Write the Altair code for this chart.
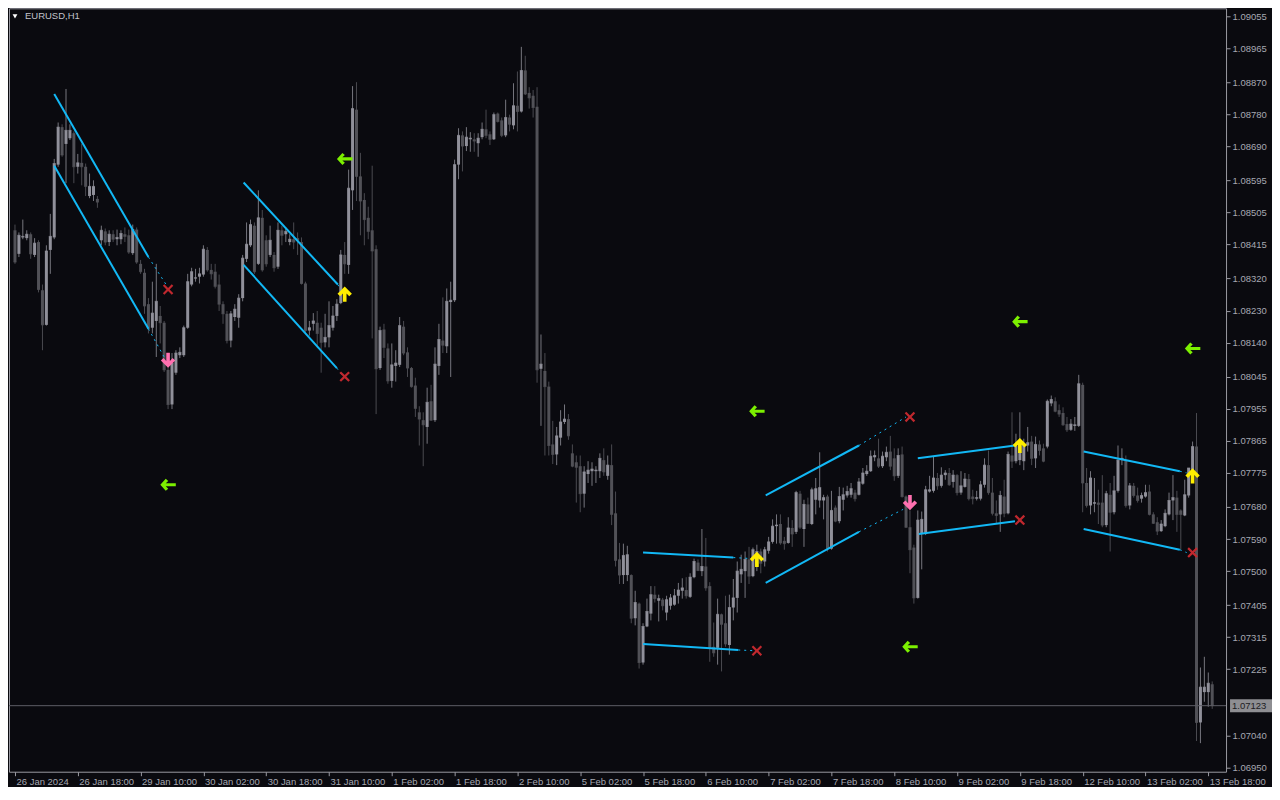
import altair as alt
import pandas as pd

# ---------------- EURUSD H1 candles (prices in points, 1e-5) ----------------
open_pts = [
108455,108389,108435,108433,108444,108386,108422,108287,108190,108400,
108435,108639,108744,108697,108713,108727,108633,108644,108633,108551,
108554,108543,108427,108452,108422,108444,108430,108430,108444,108441,
108391,108457,108361,108336,108248,108182,108201,108215,108196,108064,
107967,108056,108105,108105,108182,108303,108320,108325,108331,108400,
108344,108339,108303,108248,108221,108146,108212,108210,108265,108375,
108413,108468,108361,108490,108427,108386,108386,108353,108455,108444,
108422,108430,108433,108422,108306,108174,108193,108196,108182,108141,
108155,108182,108215,108251,108386,108358,108567,108793,108606,108540,
108490,108455,108402,108069,108177,108124,108033,108075,108078,108185,
108113,108069,108020,107945,107923,107904,107976,107923,108075,108146,
108130,108254,108259,108639,108721,108691,108710,108710,108699,108716,
108738,108724,108710,108782,108763,108721,108771,108749,108804,108788,
108903,108840,108832,108801,108067,108061,108017,107855,107827,107874,
107918,107926,107830,107805,107794,107717,107772,107780,107780,107780,
107811,107767,107797,107662,107533,107489,107489,107489,107368,107409,
107244,107345,107381,107434,107417,107420,107384,107403,107406,107431,
107445,107447,107428,107483,107524,107500,107513,107458,107288,107285,
107379,107354,107293,107398,107425,107491,107500,107533,107486,107513,
107555,107527,107557,107582,107626,107632,107585,107579,107621,107610,
107717,107618,107687,107632,107700,107698,107698,107709,107563,107678,
107640,107700,107712,107714,107720,107714,107745,107772,107780,107819,
107816,107794,107819,107835,107816,107767,107827,107709,107623,107566,
107425,107604,107604,107723,107725,107761,107739,107769,107775,107750,
107769,107720,107736,107758,107709,107703,107703,107742,107797,107720,
107662,107659,107709,107662,107824,107808,107811,107808,107852,107863,
107816,107855,107844,107849,107970,107976,107951,107943,107912,107896,
107907,107907,108022,107747,107684,107689,107692,107692,107629,107714,
107665,107725,107811,107811,107684,107739,107712,107703,107709,107723,
107659,107637,107612,107626,107659,107698,107706,107670,107656,107712,
107783,107849,107076,107161,107161,107183]

high_pts = [
108471,108449,108485,108455,108449,108433,108427,108303,108413,108501,
108655,108757,108752,108851,108752,108732,108669,108697,108642,108614,
108595,108551,108468,108460,108455,108455,108457,108455,108463,108457,
108471,108463,108372,108347,108265,108311,108361,108243,108201,108083,
108111,108119,108127,108188,108333,108350,108347,108350,108413,108408,
108361,108361,108331,108256,108229,108229,108248,108276,108386,108477,
108485,108477,108567,108512,108441,108468,108394,108477,108468,108463,
108444,108477,108449,108435,108311,108201,108223,108229,108196,108221,
108256,108243,108262,108400,108422,108625,108859,108870,108672,108559,
108521,108636,108413,108185,108193,108138,108138,108119,108212,108201,
108127,108072,108042,107962,107945,108014,108022,108127,108193,108267,
108292,108311,108653,108741,108732,108744,108730,108727,108727,108757,
108793,108732,108785,108785,108771,108821,108779,108867,108900,108969,
108944,108856,108848,108856,108163,108111,108031,107921,107904,107951,
107967,107940,107855,107824,107824,107794,107808,107805,107794,107830,
107844,107824,107855,107723,107579,107577,107571,107491,107445,107412,
107354,107423,107458,107458,107434,107425,107431,107436,107450,107467,
107480,107483,107494,107535,107533,107618,107593,107469,107356,107423,
107381,107431,107434,107478,107527,107546,107555,107568,107566,107574,
107563,107568,107596,107645,107659,107659,107596,107651,107643,107725,
107725,107700,107706,107734,107761,107833,107714,107714,107725,107684,
107736,107734,107739,107747,107728,107761,107789,107797,107838,107838,
107871,107835,107849,107879,107844,107844,107849,107712,107670,107574,
107670,107667,107739,107767,107822,107775,107791,107783,107789,107783,
107772,107780,107775,107772,107728,107725,107753,107816,107838,107761,
107698,107725,107756,107835,107945,107885,107945,107871,107904,107879,
107877,107866,107857,107981,107992,107987,107967,107959,107932,107926,
107932,108050,108028,107789,107780,107761,107728,107769,107725,107747,
107767,107852,107844,107824,107747,107747,107734,107720,107742,107742,
107665,107651,107643,107673,107720,107769,107725,107673,107756,107789,
107863,107943,107230,107260,107216,107191]

low_pts = [
108361,108380,108430,108427,108375,108380,108281,108119,108188,108333,
108430,108633,108661,108587,108708,108587,108614,108581,108551,108545,
108537,108518,108413,108413,108411,108422,108413,108416,108422,108389,
108386,108361,108333,108221,108166,108166,108100,108138,108058,107954,
107954,108050,108097,108100,108179,108298,108311,108306,108325,108339,
108317,108292,108229,108193,108138,108127,108201,108182,108256,108366,
108408,108333,108358,108339,108353,108380,108339,108347,108413,108422,
108413,108402,108386,108303,108168,108160,108174,108127,108056,108127,
108127,108174,108201,108248,108333,108333,108512,108537,108441,108413,
108430,108152,107940,108064,108097,108025,108014,108031,108072,108105,
108044,108014,107932,107852,107794,107857,107921,107918,108050,108111,
108111,108044,108254,108598,108620,108677,108675,108675,108661,108710,
108713,108694,108708,108757,108716,108716,108732,108738,108732,108785,
108834,108796,108771,108028,107907,107824,107824,107800,107797,107852,
107912,107868,107791,107692,107665,107678,107747,107739,107747,107761,
107767,107756,107629,107513,107464,107464,107472,107354,107348,107227,
107238,107343,107362,107412,107359,107390,107362,107392,107403,107409,
107423,107423,107425,107480,107500,107486,107445,107246,107260,107238,
107219,107288,107266,107362,107384,107467,107425,107464,107483,107500,
107494,107513,107549,107577,107577,107574,107560,107577,107568,107604,
107618,107568,107632,107629,107659,107678,107645,107555,107560,107637,
107634,107670,107706,107706,107695,107712,107742,107767,107778,107808,
107789,107789,107808,107783,107753,107761,107706,107621,107494,107409,
107423,107505,107601,107720,107720,107728,107734,107756,107739,107734,
107712,107714,107734,107698,107687,107698,107698,107734,107714,107656,
107632,107610,107651,107659,107789,107802,107797,107783,107835,107797,
107789,107824,107805,107844,107962,107945,107932,107907,107890,107893,
107893,107904,107665,107678,107659,107665,107632,107623,107623,107555,
107659,107720,107797,107678,107673,107706,107692,107692,107706,107656,
107632,107601,107610,107623,107656,107643,107610,107560,107654,107706,
107780,107024,107018,107134,107120,107114]

close_pts = [
108366,108441,108438,108444,108389,108419,108289,108190,108397,108438,
108642,108744,108666,108735,108735,108633,108644,108633,108578,108578,
108578,108534,108455,108422,108444,108430,108435,108446,108438,108394,
108457,108366,108339,108243,108179,108223,108256,108196,108064,107967,
108083,108111,108113,108182,108311,108339,108322,108333,108402,108344,
108333,108298,108248,108221,108146,108221,108234,108265,108377,108416,
108471,108339,108490,108344,108361,108427,108350,108455,108441,108452,
108430,108422,108427,108306,108174,108182,108201,108166,108141,108155,
108188,108215,108248,108386,108361,108573,108796,108606,108537,108485,
108452,108397,108067,108174,108127,108033,108078,108083,108188,108111,
108069,108017,107956,107926,107910,107973,107923,108080,108149,108133,
108256,108259,108639,108721,108691,108716,108713,108705,108713,108738,
108721,108710,108779,108760,108721,108771,108752,108804,108788,108903,
108837,108826,108799,108064,108080,108017,107852,107827,107879,107918,
107926,107879,107794,107791,107717,107778,107783,107786,107783,107816,
107778,107797,107659,107530,107489,107544,107546,107368,107412,107244,
107345,107387,107434,107423,107423,107403,107420,107425,107431,107447,
107453,107431,107483,107527,107502,107513,107453,107285,107271,107379,
107351,107296,107398,107425,107500,107505,107533,107486,107560,107555,
107522,107560,107582,107626,107629,107579,107577,107621,107604,107720,
107623,107687,107634,107728,107731,107734,107706,107563,107670,107640,
107709,107714,107723,107731,107703,107750,107775,107780,107822,107824,
107794,107822,107833,107794,107767,107824,107709,107623,107560,107425,
107643,107645,107728,107728,107761,107739,107769,107775,107742,107769,
107720,107739,107758,107703,107703,107706,107742,107797,107720,107662,
107656,107712,107662,107827,107808,107849,107852,107852,107860,107816,
107855,107838,107808,107976,107981,107948,107940,107910,107896,107912,
107910,108025,107747,107684,107761,107692,107687,107629,107717,107665,
107725,107811,107816,107684,107739,107712,107698,107712,107720,107659,
107634,107612,107632,107662,107698,107706,107659,107659,107714,107789,
107849,107076,107175,107175,107186,107123]

# ---------------- axis texts ----------------
x_tick_labels = ["26 Jan 2024", "26 Jan 18:00", "29 Jan 10:00", "30 Jan 02:00",
                 "30 Jan 18:00", "31 Jan 10:00", "1 Feb 02:00", "1 Feb 18:00",
                 "2 Feb 10:00", "5 Feb 02:00", "5 Feb 18:00", "6 Feb 10:00",
                 "7 Feb 02:00", "7 Feb 18:00", "8 Feb 10:00", "9 Feb 02:00",
                 "9 Feb 18:00", "12 Feb 10:00", "13 Feb 02:00", "13 Feb 18:00"]
bars_per_label = 16
y_tick_values = [1.09055, 1.08965, 1.08870, 1.08780, 1.08690, 1.08595, 1.08505,
                 1.08415, 1.08320, 1.08230, 1.08140, 1.08045, 1.07955, 1.07865,
                 1.07775, 1.07680, 1.07590, 1.07500, 1.07405, 1.07315, 1.07225,
                 1.07040, 1.06950]
last_price = 1.07123
symbol_title = "EURUSD,H1"

# ---------------- channel lines (bar index, price) ----------------
solid_id = ["A1", "A1", "A2", "A2", "B1", "B1", "B2", "B2", "C1", "C1", "C2", "C2",
            "D1", "D1", "D2", "D2", "E1", "E1", "E2", "E2", "F1", "F1", "F2", "F2"]
solid_bar = [10, 34, 10, 34, 58.25, 82.25, 58.25, 82, 160, 183, 160, 184.25,
             191.25, 215, 191.25, 215, 230, 254.75, 230.25, 254.75, 272.25, 296.75, 272.25, 296.75]
solid_price = [1.08837, 1.08380, 1.08636, 1.08179, 1.08589, 1.08303, 1.08358, 1.08069,
               1.07552, 1.07538, 1.07296, 1.07279, 1.07712, 1.07852, 1.07467, 1.07610,
               1.07816, 1.07852, 1.07604, 1.07640, 1.07835, 1.07780, 1.07618, 1.07560]
dotted_id = ["A1", "A1", "A2", "A2", "B1", "B1", "B2", "B2", "C1", "C1", "C2", "C2",
             "D1", "D1", "D2", "D2", "F1", "F1", "F2", "F2"]
dotted_bar = [34, 38.5, 34, 38, 82.25, 83.25, 82, 83.25, 183, 188, 184.25, 188.5,
              215, 227, 215, 226.25, 296.75, 298.5, 296.75, 298.5]
dotted_price = [1.08380, 1.08303, 1.08179, 1.08100, 1.08303, 1.08284, 1.08069, 1.08050,
                1.07538, 1.07535, 1.07279, 1.07277, 1.07852, 1.07932, 1.07610, 1.07673,
                1.07780, 1.07775, 1.07560, 1.07552]

# ---------------- signal markers ----------------
green_bar = [39, 84, 189, 228, 256, 300]
green_price = [1.07742, 1.08655, 1.07948, 1.07288, 1.08199, 1.08124]
yellow_bar = [84, 189, 256, 300]
yellow_price = [1.08276, 1.07533, 1.07852, 1.07767]
pink_bar = [39, 228]
pink_price = [1.08091, 1.07692]
red_bar = [39, 84, 189, 228, 256, 300]
red_price = [1.08289, 1.08045, 1.07277, 1.07932, 1.07643, 1.07552]

# ---------------- styling ----------------
W, H = 1218, 764
BG = "#0a0a0f"
UP_BODY, DOWN_BODY = "#90909a", "#515157"
UP_WICK, DOWN_WICK = "#76767e", "#4a4a50"
CHAN = "#12b8f5"
AXIS_C = "#a6a8b2"
FONT = "Liberation Sans"

df = pd.DataFrame({
    "bar": list(range(len(open_pts))),
    "open": [v / 1e5 for v in open_pts],
    "high": [v / 1e5 for v in high_pts],
    "low": [v / 1e5 for v in low_pts],
    "close": [v / 1e5 for v in close_pts],
})

xs = alt.Scale(domain=[-0.25, 307.25], nice=False, zero=False)
ys = alt.Scale(domain=[1.06938, 1.09077], nice=False, zero=False)

labels_js = "[" + ",".join("'" + s + "'" for s in x_tick_labels) + "]"
x_axis = alt.Axis(values=[bars_per_label * i for i in range(len(x_tick_labels))],
                  labelExpr=labels_js + "[round(datum.value / %d)]" % bars_per_label,
                  orient="bottom", tickSize=4, labelPadding=1, labelAlign="left",
                  labelBaseline="top", labelOffset=1, labelFlush=False, labelOverlap=False,
                  domain=False, grid=False, title=None)
y_axis = alt.Axis(values=y_tick_values, labelExpr="format(datum.value, '.5f')",
                  orient="right", tickSize=4, labelPadding=2, labelFlush=False,
                  labelOverlap=False, domain=False, grid=False, title=None,
                  labelBaseline="middle")


def X(field):
    return alt.X(field, scale=xs, axis=x_axis)


def Y(field):
    return alt.Y(field, scale=ys, axis=y_axis)


up_cond = "datum.close >= datum.open"

wicks = alt.Chart(df).mark_rule(strokeWidth=1).encode(
    x=X("bar:Q"), y=Y("low:Q"), y2="high:Q",
    color=alt.condition(up_cond, alt.value(UP_WICK), alt.value(DOWN_WICK)),
)
bodies = alt.Chart(df).mark_bar(size=3).encode(
    x=X("bar:Q"), y=Y("open:Q"), y2="close:Q",
    color=alt.condition(up_cond, alt.value(UP_BODY), alt.value(DOWN_BODY)),
)
dojis = alt.Chart(df).mark_tick(orient="horizontal", size=3, thickness=1).encode(
    x=X("bar:Q"), y=Y("close:Q"),
    color=alt.condition(up_cond, alt.value(UP_BODY), alt.value(DOWN_BODY)),
)

price_df = pd.DataFrame({"p": [last_price], "t": ["%.5f" % last_price]})
price_line = alt.Chart(price_df).mark_rule(strokeWidth=1, color="#5e5e66").encode(
    y=Y("p:Q"))
price_box = alt.Chart(price_df).mark_tick(orient="horizontal", size=42, thickness=13,
                                          color="#8e8e92", opacity=1).encode(
    x=alt.value(W + 25), y=Y("p:Q"))
price_txt = alt.Chart(price_df).mark_text(align="left", baseline="middle", font=FONT,
                                          fontSize=9.5, color="#1c1c22").encode(
    x=alt.value(W + 6), y=Y("p:Q"), text="t:N")

solid_df = pd.DataFrame({"id": solid_id, "bar": solid_bar, "price": solid_price})
dotted_df = pd.DataFrame({"id": dotted_id, "bar": dotted_bar, "price": dotted_price})
solid_lines = alt.Chart(solid_df).mark_line(strokeWidth=2, color=CHAN).encode(
    x=X("bar:Q"), y=Y("price:Q"), detail="id:N", order="bar:Q")
dotted_lines = alt.Chart(dotted_df).mark_line(strokeWidth=1, color=CHAN,
                                              strokeDash=[2, 4]).encode(
    x=X("bar:Q"), y=Y("price:Q"), detail="id:N", order="bar:Q")

UP_ARROW = "M0,-1L0.95,-0.05L0.6,0.28L0.24,-0.1L0.24,1L-0.24,1L-0.24,-0.1L-0.6,0.28L-0.95,-0.05Z"
DOWN_ARROW = "M0,1L0.95,0.05L0.6,-0.28L0.24,0.1L0.24,-1L-0.24,-1L-0.24,0.1L-0.6,-0.28L-0.95,0.05Z"
LEFT_ARROW = "M-1,0L-0.3,-0.78L0.02,-0.5L-0.3,-0.2L1,-0.2L1,0.2L-0.3,0.2L0.02,0.5L-0.3,0.78Z"
X_MARK = "M-1,-0.7L-0.7,-1L0,-0.3L0.7,-1L1,-0.7L0.3,0L1,0.7L0.7,1L0,0.3L-0.7,1L-1,0.7L-0.3,0Z"


def markers(bars, prices, shape, color, size):
    d = pd.DataFrame({"bar": bars, "price": prices})
    return alt.Chart(d).mark_point(shape=shape, filled=True, color=color, size=size,
                                   opacity=1, strokeWidth=0).encode(
        x=X("bar:Q"), y=Y("price:Q"))


green = markers(green_bar, green_price, LEFT_ARROW, "#7cf000", 240)
yellow = markers(yellow_bar, yellow_price, UP_ARROW, "#ffee00", 230)
pink = markers(pink_bar, pink_price, DOWN_ARROW, "#ff70b0", 230)
red = markers(red_bar, red_price, X_MARK, "#c0282e", 110)

title_df = pd.DataFrame({"t": [symbol_title]})
title_txt = alt.Chart(title_df).mark_text(align="left", baseline="middle", font=FONT,
                                          fontSize=9.5, color="#c2c4cc").encode(
    x=alt.value(16), y=alt.value(8), text="t:N")
title_tri = alt.Chart(title_df).mark_point(shape="triangle-down", filled=True,
                                           color="white", size=24, opacity=1).encode(
    x=alt.value(6), y=alt.value(8))

chart = alt.layer(
    wicks, bodies, dojis, price_line, solid_lines, dotted_lines,
    green, yellow, pink, red, price_box, price_txt, title_tri, title_txt,
).properties(width=W, height=H, background=BG, padding=0).configure_view(
    stroke="#9a9aa2", strokeWidth=1, fill=BG
).configure_axis(
    labelFont=FONT, labelFontSize=9.5, labelColor=AXIS_C, tickColor="#9a9aa2",
    tickWidth=1
)

chart.save("out.html", embed_options={"renderer": "svg", "actions": False})
